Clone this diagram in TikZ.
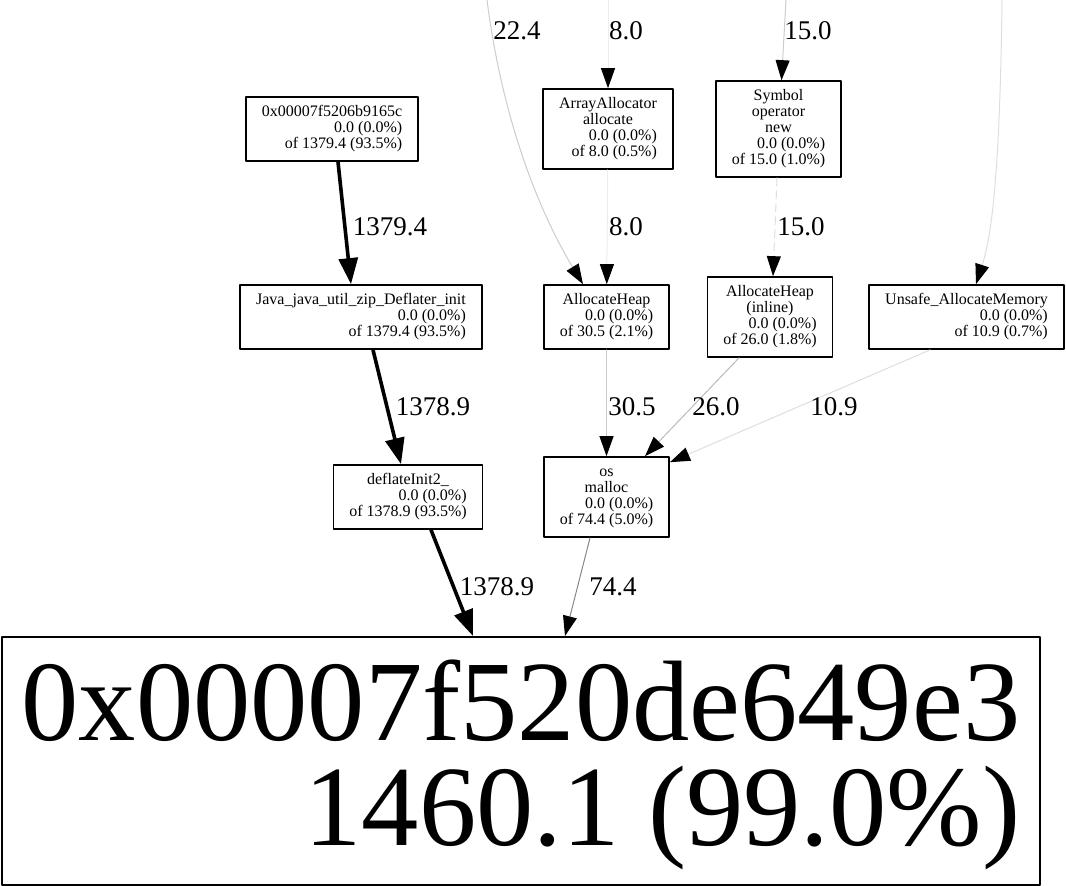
\documentclass[tikz,border=0pt]{standalone}
\usepackage{fontspec}
\setmainfont{Liberation Serif}
\usetikzlibrary{arrows.meta}

\tikzset{
  fn/.style={draw, line width=1.6pt, inner xsep=16pt, inner ysep=8pt, font=\fontsize{16}{16}\selectfont},
  lbl/.style={font=\fontsize{27}{27}\selectfont, inner sep=0pt},
  thin edge/.style={-{Triangle[length=20pt,width=14pt,color=black]}, line width=1pt},
  heavy edge/.style={-{Triangle[length=26pt,width=19pt]}, line width=3.6pt, black},
}
\newcommand{\fnbox}[1]{\begin{tabular}{@{}c@{}}#1\end{tabular}}

\begin{document}
\begin{tikzpicture}[x=1pt, y=-1pt, line join=round, line cap=round]
	\useasboundingbox (0,0) rectangle (1066,886);
	
	% ==========================================
	% 1. CAC NUT (toa do tam theo pixel)
	% ==========================================
	\node[fn] (hexA) at (332,129) {\fnbox{0x00007f5206b9165c\\ \hfill 0.0 (0.0\%)\\ \hfill of 1379.4 (93.5\%)}};
	\node[fn] (arr) at (608,129) {\fnbox{ArrayAllocator\\ allocate\\ \hfill 0.0 (0.0\%)\\ \hfill of 8.0 (0.5\%)}};
	\node[fn] (sym) at (778.5,129) {\fnbox{Symbol\\ operator\\ new\\ \hfill 0.0 (0.0\%)\\ \hfill of 15.0 (1.0\%)}};
	
	\node[fn] (java) at (361,317) {\fnbox{Java\_java\_util\_zip\_Deflater\_init\\ \hfill 0.0 (0.0\%)\\ \hfill of 1379.4 (93.5\%)}};
	\node[fn] (aheap) at (606.5,317) {\fnbox{AllocateHeap\\ \hfill 0.0 (0.0\%)\\ \hfill of 30.5 (2.1\%)}};
	\node[fn] (inl) at (770,317) {\fnbox{AllocateHeap\\ (inline)\\ \hfill 0.0 (0.0\%)\\ \hfill of 26.0 (1.8\%)}};
	\node[fn] (unsafe) at (966.5,317) {\fnbox{Unsafe\_AllocateMemory\\ \hfill 0.0 (0.0\%)\\ \hfill of 10.9 (0.7\%)}};
	
	\node[fn] (defl) at (408,497) {\fnbox{deflateInit2\_\\ \hfill 0.0 (0.0\%)\\ \hfill of 1378.9 (93.5\%)}};
	\node[fn] (malloc) at (606.5,497) {\fnbox{os\\ malloc\\ \hfill 0.0 (0.0\%)\\ \hfill of 74.4 (5.0\%)}};
	
	% Nut dich (chu rat lon)
	\node[fn, anchor=north, align=right, inner xsep=20pt, inner ysep=0pt, text height=209pt, text depth=39pt,
		font=\fontsize{114.5}{105}\selectfont] (big) at (521,636) {0x00007f520de649e3\\ 1460.1 (99.0\%)};
	
	% Dau tu do cua cac canh di vao tu phia tren
	\coordinate (t1) at (487,0);
	\coordinate (t2) at (608,0);
	\coordinate (t3) at (786,0);
	\coordinate (t4) at (1002,0);
	
	% ==========================================
	% 2. CAC CANH
	% ==========================================
	\draw[thin edge, black!20] (t1) .. controls (505,140) and (550,230) .. ([xshift=-23.5pt]aheap.north);
	\draw[thin edge, black!7] (t2) -- (arr.north);
	\draw[thin edge, black!20] (t3) -- ([xshift=3pt]sym.north);
	\draw[thin edge, black!13] (t4) .. controls (1000,170) and (992,235) .. ([xshift=9.5pt]unsafe.north);
	
	\draw[heavy edge] ([xshift=6pt]hexA.south) -- ([xshift=-10pt]java.north);
	\draw[thin edge, black!7] (arr) -- (aheap);
	\draw[thin edge, black!13, dash pattern=on 8pt off 5pt] ([xshift=-1.5pt]sym.south) -- ([xshift=3pt]inl.north);
	
	\draw[heavy edge] ([xshift=12pt]java.south) -- ([xshift=-7pt]defl.north);
	\draw[thin edge, black!20] (aheap) -- (malloc);
	\draw[thin edge, black!27] ([xshift=-31pt]inl.south) -- ([xshift=38.5pt]malloc.north);
	\draw[thin edge, black!13] ([xshift=-36.5pt]unsafe.south) -- ([yshift=-6pt]malloc.north east);
	
	\draw[heavy edge] ([xshift=23pt]defl.south) -- ([xshift=-48pt]big.north);
	\draw[thin edge, black!47] ([xshift=-16.5pt]malloc.south) -- ([xshift=44pt]big.north);
	
	% 3. Nhan tren cac canh
	\foreach \w/\x/\y/\name in {22.4/517/31/l1, 8.0/626/31/l2, 15.0/808/31/l3,
		1379.4/390/227/l4, 8.0/626/227/l5, 15.0/801/227/l6,
		1378.9/433/407/l7, 30.5/632/407/l8, 26.0/716/407/l9, 10.9/834/407/l10,
		1378.9/497/587/l11, 74.4/613/587/l12} {
		\node[lbl] (\name) at (\x,\y) {\w};
	}
\end{tikzpicture}
\end{document}
